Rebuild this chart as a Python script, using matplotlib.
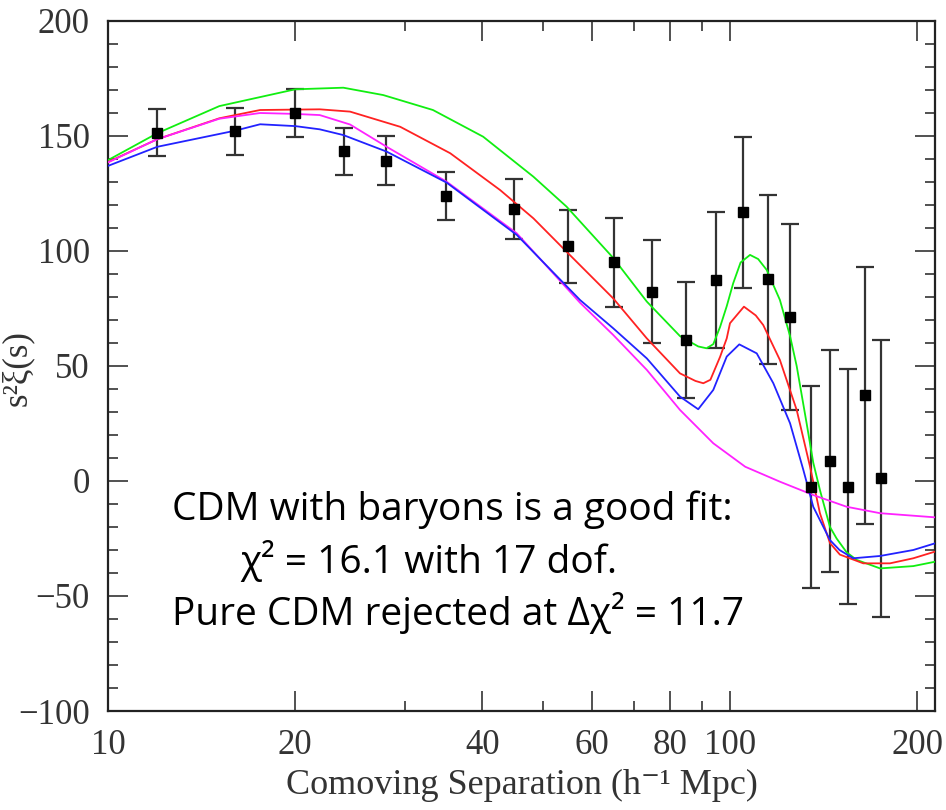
import matplotlib
matplotlib.use("Agg")
import matplotlib.pyplot as plt
from matplotlib.ticker import FixedLocator, NullFormatter

# data points (s, s^2 xi, error)
sep = [12, 16, 20, 24, 28, 35, 45, 55, 65, 75, 85, 95, 105, 115, 125, 135, 145, 155, 165, 175]
xi = [151.5, 152.1, 160.0, 143.3, 139.2, 124.0, 118.2, 102.0, 95.0, 82.3, 61.4, 87.4, 116.8, 87.7, 71.3,
      -2.7, 8.8, -2.5, 37.2, 1.2]
err = [10.1, 10.2, 10.4, 10.2, 10.6, 10.5, 13.0, 16.0, 19.4, 22.5, 25.2, 29.7, 32.7, 36.7, 40.6,
       44.0, 48.2, 51.1, 56.0, 60.3]

# model curves
green_x = [10, 12.0, 15.1, 20.0, 23.9, 27.7, 33.3, 40.1, 48.3, 54.6, 64.9, 73.5, 83.1, 88.9, 91.7,
           94.0, 96.4, 98.8, 101.2, 104, 107.7, 111, 114.6, 120.3, 124.9, 128, 132.8, 136.1, 139.5,
           144.8, 148.4, 154, 159.8, 174.3, 197.1, 213.6]
green_y = [139.5, 151.2, 163, 170.3, 171, 167.8, 161.3, 149.7, 132.3, 119.3, 97, 78, 63, 58.5, 57.7,
           59.5, 67, 76, 86, 95, 98.3, 96.5, 91.7, 78.7, 63, 50, 25.1, 8, -3.9,
           -20, -25, -31, -34.3, -38, -37, -35.1]

red_x = [10, 12.0, 15.1, 17.56, 21.9, 24.5, 29.5, 35.5, 42.7, 48.3, 54.6, 64.9, 73.5, 83.1, 88, 90.6,
         93, 96.4, 98.8, 100, 105.3, 110, 113.1, 120.3, 128, 134.5, 139.5, 144.8, 150.2, 163.8,
         180.8, 197.1, 213.6]
red_y = [138.7, 148.6, 157.7, 161.3, 161.6, 160.6, 154, 142.5, 126.5, 114.2, 99.7, 79.4, 62, 46.8, 43.5, 42.5,
         44, 54, 62, 68.6, 75.8, 72, 67.8, 52.6, 30.9, 6.2, -14, -27, -32, -35.8,
         -35.8, -33.6, -30.7]

blue_x = [10, 12.0, 16.0, 17.56, 20.0, 21.9, 23.9, 28.06, 35.04, 45.41, 57.4, 64.9, 73.5, 83.1, 88.9,
          94.0, 98.8, 103.5, 110.4, 117.4, 124.9, 131.2, 136.1, 144.8, 150, 157.8, 174.3, 197.1, 213.6]
blue_y = [137, 145.3, 152.3, 155.1, 154.3, 152.9, 150.4, 143.2, 129.7, 107, 78.7, 66.4, 53.3, 36.7, 31.2,
          39.6, 54.1, 59.4, 55.5, 42.5, 25.1, 4.8, -11.2, -25.7, -30, -33.6, -32.6, -30, -27.1]

magenta_x = [10, 12.0, 15.1, 17.56, 20.0, 21.9, 24.5, 28.06, 35.04, 45.41, 57.4, 64.9, 73.5, 83.1,
             94.0, 105.8, 120.3, 136.1, 154, 174.3, 213.6]
magenta_y = [138.5, 148.6, 157.5, 160, 159.6, 159.1, 155, 145.3, 130.1, 107.7, 77.5, 63.5, 48.3, 30.9,
             16.4, 6.2, -0.3, -6.1, -11.2, -14, -15.8]

x_major = [10, 20, 40, 60, 80, 100, 200]
x_minor = [30, 50, 70, 90]

W, H = 946, 810
fig = plt.figure(figsize=(W / 100, H / 100), dpi=100)
ax = fig.add_axes([108 / W, 1 - 711 / H, (935 - 108) / W, (711 - 21) / H])

ax.errorbar(sep, xi, yerr=err, fmt='none', ecolor='#333333', elinewidth=1.6, capsize=6.5, capthick=1.6, zorder=2)
ax.plot(green_x, green_y, color='#11ee11', lw=1.3, zorder=3)
ax.plot(red_x, red_y, color='#ff2222', lw=1.3, zorder=3)
ax.plot(magenta_x, magenta_y, color='#ff22ff', lw=1.3, zorder=3)
ax.plot(blue_x, blue_y, color='#2222ff', lw=1.3, zorder=3)
ax.plot(sep, xi, 's', color='black', ms=7, zorder=4)

ax.set_xscale('log')
ax.set_xlim(10, 213.6)
ax.set_ylim(-100, 200)

ax.xaxis.set_major_locator(FixedLocator(x_major))
ax.xaxis.set_minor_locator(FixedLocator(x_minor))
ax.xaxis.set_minor_formatter(NullFormatter())
ax.set_xticklabels([str(v) for v in x_major])
ax.yaxis.set_major_locator(FixedLocator(list(range(-100, 201, 50))))
ax.yaxis.set_minor_locator(FixedLocator(list(range(-100, 201, 10))))
ax.set_yticklabels(['\u2212100', '\u221250', '0', '50', '100', '150', '200'])

serif = ['Liberation Serif', 'DejaVu Serif']
ax.tick_params(which='both', direction='in', top=True, right=True, width=1.1, color='#222222')
ax.tick_params(which='major', length=14.5)
ax.tick_params(which='minor', length=7.2)
ax.tick_params(axis='x', which='major', pad=13, labelsize=25, labelcolor='#333333')
ax.tick_params(axis='y', which='major', pad=13, labelsize=25, labelcolor='#333333')
for lab in ax.get_xticklabels() + ax.get_yticklabels():
    lab.set_family(serif)
for sp in ax.spines.values():
    sp.set_linewidth(1.6)
    sp.set_color('#222222')

ax.set_xlabel('Comoving Separation (h\u207b\u00b9 Mpc)', family=serif, fontsize=26, color='#333333', labelpad=5)
fig.text(17 / W, 1 - 368 / H, 's\u00b2\u03be(s)', family=serif, fontsize=25,
         color='#333333', rotation=90, ha='center', va='center')

txt = ['Open Sans', 'DejaVu Sans']
fig.text(172 / W, 1 - 520 / H, 'CDM with baryons is a good fit:', family=txt, fontsize=28, va='baseline')
fig.text(240 / W, 1 - 573 / H, '\u03c7\u00b2 = 16.1 with 17 dof.', family=txt, fontsize=28, va='baseline')
fig.text(172 / W, 1 - 625 / H, 'Pure CDM rejected at \u0394\u03c7\u00b2 = 11.7', family=txt, fontsize=28, va='baseline')

fig.savefig('out.png', dpi=100)
